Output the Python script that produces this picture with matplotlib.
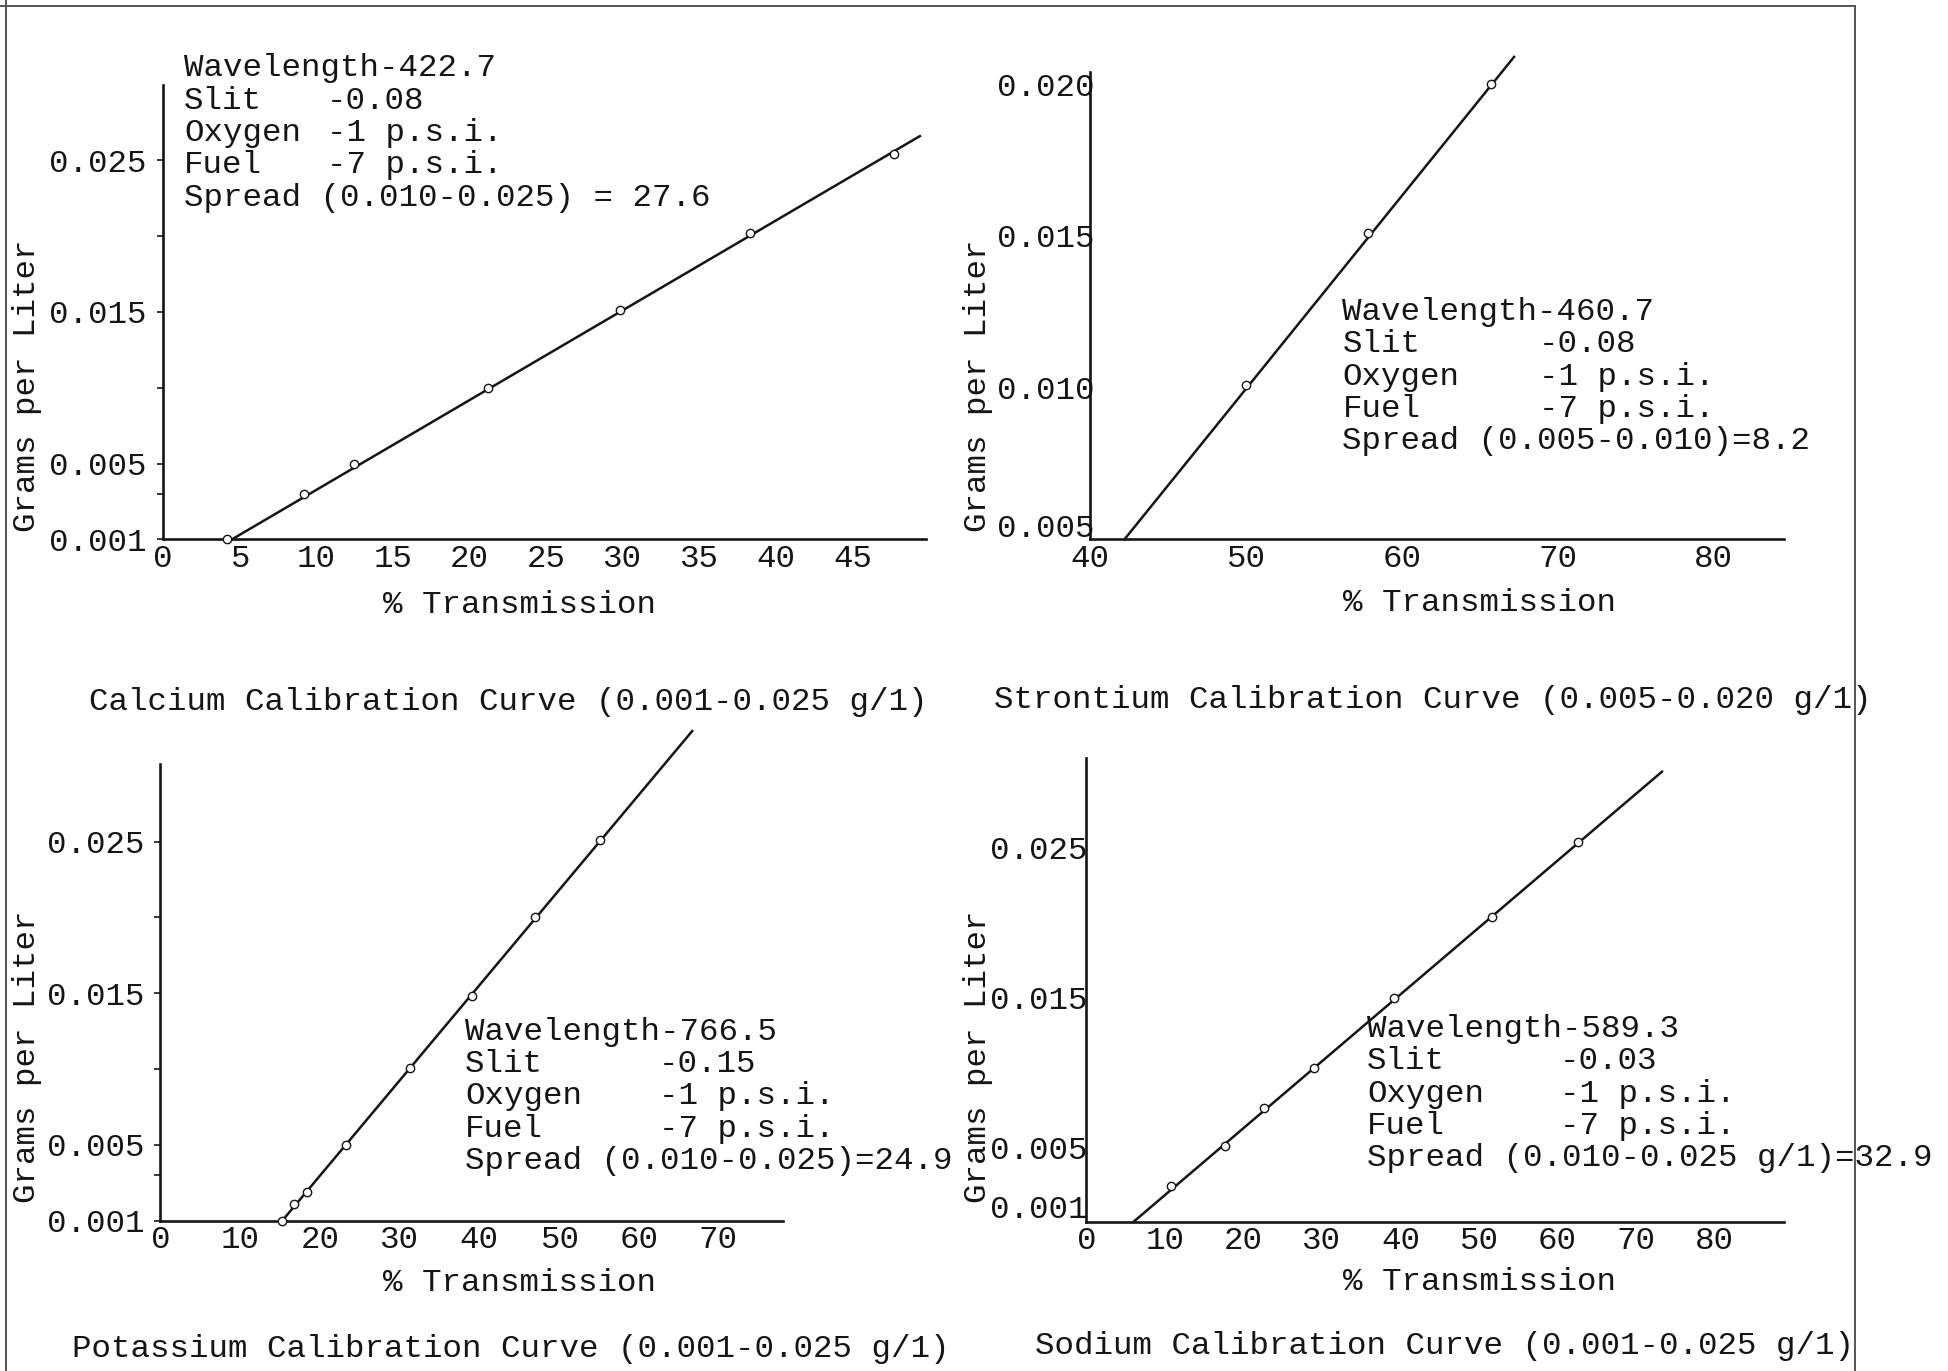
import matplotlib
matplotlib.use("Agg")
import matplotlib.pyplot as plt
import matplotlib.transforms as mtransforms
from matplotlib.lines import Line2D

# === Layout grid: positions below are read on a 1568 x 1103 copy of the scan ===
GW, GH = 1568, 1103
FS = 23.4
INK = "#151515"

plt.rcParams["font.family"] = ["Liberation Mono", "DejaVu Sans Mono"]
plt.rcParams["font.size"] = FS

# === Calcium ===
ca_trans = [4.2, 9.2, 12.5, 21.2, 29.8, 38.3, 47.7]
ca_conc = [0.0, 0.0030, 0.0050, 0.0100, 0.0151, 0.0202, 0.0254]
ca_fit_trans = [4.5, 49.4]
ca_fit_conc = [0.0, 0.0266]
ca_xticks = [0, 5, 10, 15, 20, 25, 30, 35, 40, 45]
ca_ylabels = ["0.001", "0.005", "0.015", "0.025"]
ca_note_keys = ["Wavelength-422.7", "Slit", "Oxygen", "Fuel", "Spread (0.010-0.025) = 27.6"]
ca_note_vals = ["", "-0.08", "-1 p.s.i.", "-7 p.s.i.", ""]
ca_caption = "Calcium Calibration Curve (0.001-0.025 g/1)"

# === Strontium ===
sr_trans = [50.0, 57.8, 65.7]
sr_conc = [0.0101, 0.0151, 0.0200]
sr_fit_trans = [42.2, 67.2]
sr_fit_conc = [0.0050, 0.0209]
sr_xticks = [40, 50, 60, 70, 80]
sr_ylabels = ["0.005", "0.010", "0.015", "0.020"]
sr_note_keys = ["Wavelength-460.7", "Slit", "Oxygen", "Fuel", "Spread (0.005-0.010)=8.2"]
sr_note_vals = ["", "-0.08", "-1 p.s.i.", "-7 p.s.i.", ""]
sr_caption = "Strontium Calibration Curve (0.005-0.020 g/1)"

# === Potassium ===
k_trans = [15.3, 16.7, 18.4, 23.3, 31.3, 39.1, 47.0, 55.1]
k_conc = [0.0, 0.0011, 0.0019, 0.0050, 0.0101, 0.0148, 0.0200, 0.0251]
k_fit_trans = [15.3, 66.7]
k_fit_conc = [0.0, 0.0323]
k_xticks = [0, 10, 20, 30, 40, 50, 60, 70]
k_ylabels = ["0.001", "0.005", "0.015", "0.025"]
k_note_keys = ["Wavelength-766.5", "Slit", "Oxygen", "Fuel", "Spread (0.010-0.025)=24.9"]
k_note_vals = ["", "-0.15", "-1 p.s.i.", "-7 p.s.i.", ""]
k_caption = "Potassium Calibration Curve (0.001-0.025 g/1)"

# === Sodium ===
na_trans = [10.8, 17.6, 22.6, 29.0, 39.2, 51.6, 62.6]
na_conc = [0.0024, 0.0051, 0.0076, 0.0103, 0.0150, 0.0204, 0.0254]
na_fit_trans = [6.0, 73.3]
na_fit_conc = [0.0, 0.0301]
na_xticks = [0, 10, 20, 30, 40, 50, 60, 70, 80]
na_ylabels = ["0.001", "0.005", "0.015", "0.025"]
na_note_keys = ["Wavelength-589.3", "Slit", "Oxygen", "Fuel", "Spread (0.010-0.025 g/1)=32.9"]
na_note_vals = ["", "-0.03", "-1 p.s.i.", "-7 p.s.i.", ""]
na_caption = "Sodium Calibration Curve (0.001-0.025 g/1)"

x_title = "% Transmission"
y_title = "Grams per Liter"


def fpos(x, y):
    return x / GW, 1 - y / GH


def draw_panel(fig, box, xlim, ylim, ytick_pos, yminor, ypad, ylen,
               trans, conc, fit_t, fit_c, xticks, ylabels,
               keys, vals, note_xy, val_x, caption, cap_xy, xl_xy, yl_xy,
               lift_first=0):
    x0, yb, x1, yt = box
    ax = fig.add_axes([x0 / GW, 1 - yb / GH, (x1 - x0) / GW, (yb - yt) / GH])
    ax.patch.set_alpha(0)
    for s in ["top", "right"]:
        ax.spines[s].set_visible(False)
    for s in ["left", "bottom"]:
        ax.spines[s].set_linewidth(1.9)
        ax.spines[s].set_color(INK)
    ax.set_xlim(*xlim)
    ax.set_ylim(*ylim)

    ax.plot(fit_t, fit_c, color=INK, lw=1.8, clip_on=False, zorder=3)
    ax.plot(trans, conc, ls="none", marker="o", ms=6, mfc="white",
            mec=INK, mew=1.0, clip_on=False, zorder=4)

    ax.set_xticks(xticks)
    ax.set_xticklabels([str(t) for t in xticks])
    ax.tick_params(axis="x", length=0, pad=3, labelsize=FS, colors=INK)
    ax.set_yticks(ytick_pos)
    ax.set_yticklabels(ylabels)
    ax.set_yticks(yminor, minor=True)
    ax.tick_params(axis="y", which="major", length=ylen, width=1.2, pad=ypad,
                   labelsize=FS, colors=INK)
    ax.tick_params(axis="y", which="minor", length=ylen, width=1.2, colors=INK)
    if lift_first:
        lab = ax.get_yticklabels()[0]
        lab.set_transform(lab.get_transform() +
                          mtransforms.ScaledTranslation(0, lift_first / 72, fig.dpi_scale_trans))

    # notes block
    nx, ny = note_xy
    for i, (k, v) in enumerate(zip(keys, vals)):
        fig.text(*fpos(nx, ny + 26 * i), k, ha="left", va="center", color=INK)
        if v:
            fig.text(*fpos(val_x, ny + 26 * i), v, ha="left", va="center", color=INK)

    fig.text(*fpos(*xl_xy), x_title, ha="center", va="center", color=INK)
    fig.text(*fpos(*yl_xy), y_title, ha="center", va="center", rotation=90, color=INK)
    fig.text(*fpos(*cap_xy), caption, ha="left", va="center", color=INK)
    return ax


fig = plt.figure(figsize=(19.49, 13.71), dpi=100)
fig.patch.set_facecolor("white")

# Calcium (top left)
draw_panel(fig, (131, 434, 745, 68), (0, 49.8), (0, 0.0300),
           [0, 0.005, 0.015, 0.025], [0.003, 0.010, 0.020], 7.5, 4,
           ca_trans, ca_conc, ca_fit_trans, ca_fit_conc, ca_xticks, ca_ylabels,
           ca_note_keys, ca_note_vals, (148, 55), 263, ca_caption, (72, 565),
           (418, 487), (22, 310))

# Strontium (top right)
draw_panel(fig, (877, 434, 1435, 58), (40, 84.5), (0.005, 0.0204),
           [0.005, 0.010, 0.015, 0.020], [], -3, 0,
           sr_trans, sr_conc, sr_fit_trans, sr_fit_conc, sr_xticks, sr_ylabels,
           sr_note_keys, sr_note_vals, (1080, 251), 1238, sr_caption, (800, 563),
           (1190, 485), (787, 310), lift_first=10)

# Potassium (bottom left)
draw_panel(fig, (129, 982, 630, 615), (0, 78.1), (0, 0.0301),
           [0, 0.005, 0.015, 0.025], [0.003, 0.010, 0.020], 7.5, 4,
           k_trans, k_conc, k_fit_trans, k_fit_conc, k_xticks, k_ylabels,
           k_note_keys, k_note_vals, (374, 830), 530, k_caption, (58, 1085),
           (418, 1032), (22, 850))

# Sodium (bottom right)
draw_panel(fig, (874, 983, 1435, 610), (0, 88.8), (0, 0.0310),
           [0.001, 0.005, 0.015, 0.025], [0.003, 0.010, 0.020], -1, 0,
           na_trans, na_conc, na_fit_trans, na_fit_conc, na_xticks, na_ylabels,
           na_note_keys, na_note_vals, (1100, 828), 1255, na_caption, (833, 1083),
           (1190, 1031), (787, 850))

# === scanned page border ===
border = "#555555"
for xs, ys in [([5, 5], [0, GH]), ([0, 1492], [5, 5]), ([1492, 1492], [5, GH])]:
    fx = [x / GW for x in xs]
    fy = [1 - y / GH for y in ys]
    fig.add_artist(Line2D(fx, fy, transform=fig.transFigure, color=border,
                          lw=1.4, zorder=10))

fig.savefig("out.png", dpi=100, facecolor="white")
